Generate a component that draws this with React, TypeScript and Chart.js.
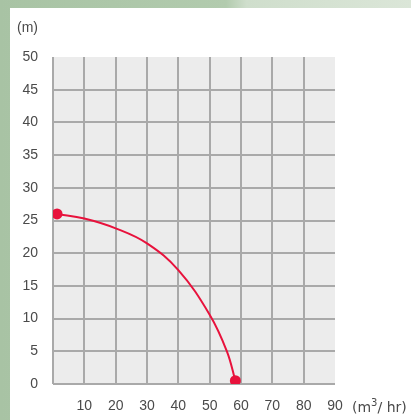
import React, { useEffect, useRef } from "react";
import { Chart, registerables } from "chart.js";

Chart.register(...registerables);

// Pump curve: flow (m³/hr) vs head (m)
const flow = [1.3, 10, 20, 30, 40, 50, 55.5, 58.2];
const head = [26, 25.3, 23.8, 21.5, 17.4, 10.6, 5, 0.5];
const xTicks = [0, 10, 20, 30, 40, 50, 60, 70, 80, 90];
const yTicks = [0, 5, 10, 15, 20, 25, 30, 35, 40, 45, 50];

const FONT = "'Liberation Sans', Arial, sans-serif";
const TEXT = "#4a4a4a";
const GRID = "#a9a9a9";
const RED = "#e8123c";

const plotBg = {
  id: "plotBg",
  beforeDraw(chart: any) {
    const { ctx, chartArea } = chart;
    if (!chartArea) return;
    ctx.save();
    ctx.fillStyle = "#ececec";
    ctx.fillRect(chartArea.left, chartArea.top, chartArea.right - chartArea.left, chartArea.bottom - chartArea.top);
    ctx.restore();
  },
};

export default function App() {
  const ref = useRef<HTMLCanvasElement | null>(null);

  useEffect(() => {
    if (!ref.current) return;
    const n = flow.length;
    const chart = new Chart(ref.current, {
      type: "line",
      data: {
        datasets: [
          {
            data: flow.map((x, i) => ({ x, y: head[i] })),
            borderColor: RED,
            backgroundColor: RED,
            borderWidth: 2,
            pointRadius: flow.map((_, i) => (i === 0 || i === n - 1 ? 5.5 : 0)),
            pointBorderWidth: 0,
            pointBackgroundColor: RED,
            tension: 0.4,
            fill: false,
          },
        ],
      },
      options: {
        animation: false,
        responsive: false,
        maintainAspectRatio: false,
        layout: { padding: { left: 0, top: 49, right: 76, bottom: 0 } },
        plugins: { legend: { display: false }, tooltip: { enabled: false } },
        scales: {
          x: {
            type: "linear",
            min: 0,
            max: 90,
            afterBuildTicks: (s: any) => {
              s.ticks = xTicks.map((v) => ({ value: v }));
            },
            afterFit: (s: any) => {
              s.height = 36;
            },
            ticks: {
              autoSkip: false,
              maxRotation: 0,
              padding: 14,
              color: TEXT,
              font: { family: FONT, size: 14 },
              callback: (v: any) => (v === 0 ? "" : String(v)),
            },
            grid: {
              drawTicks: false,
              lineWidth: 2,
              color: (c: any) => (c.tick && c.tick.value === 90 ? "rgba(0,0,0,0)" : GRID),
            },
            border: { display: false },
          },
          y: {
            type: "linear",
            min: 0,
            max: 50,
            afterBuildTicks: (s: any) => {
              s.ticks = yTicks.map((v) => ({ value: v }));
            },
            afterFit: (s: any) => {
              s.width = 43;
            },
            ticks: {
              autoSkip: false,
              padding: 15,
              color: TEXT,
              font: { family: FONT, size: 14 },
            },
            grid: {
              drawTicks: false,
              lineWidth: 2,
              color: (c: any) => (c.tick && c.tick.value === 50 ? "rgba(0,0,0,0)" : GRID),
            },
            border: { display: false },
          },
        },
      },
      plugins: [plotBg],
    });
    return () => chart.destroy();
  }, []);

  return (
    <div
      style={{
        position: "fixed",
        inset: 0,
        background:
          "linear-gradient(to right, #a8c3a4 0%, #b2cbae 55%, #cfdecc 60%, #dbe6d8 100%)",
      }}
    >
      <div
        style={{
          position: "absolute",
          left: 10,
          top: 8,
          width: 401,
          height: 412,
          background: "#ffffff",
        }}
      >
        <canvas ref={ref} width={401} height={412} style={{ display: "block" }} />
        <span
          style={{
            position: "absolute",
            left: 7,
            top: 11,
            fontFamily: FONT,
            fontSize: 14,
            color: TEXT,
            lineHeight: "16px",
          }}
        >
          (m)
        </span>
        <span
          style={{
            position: "absolute",
            left: 342,
            top: 390,
            fontFamily: "'DejaVu Sans', sans-serif",
            fontSize: 14,
            color: TEXT,
            lineHeight: "18px",
            whiteSpace: "nowrap",
          }}
        >
          (m<sup style={{ fontSize: 10, verticalAlign: "6px", lineHeight: 0 }}>3</sup>/ hr)
        </span>
      </div>
    </div>
  );
}
